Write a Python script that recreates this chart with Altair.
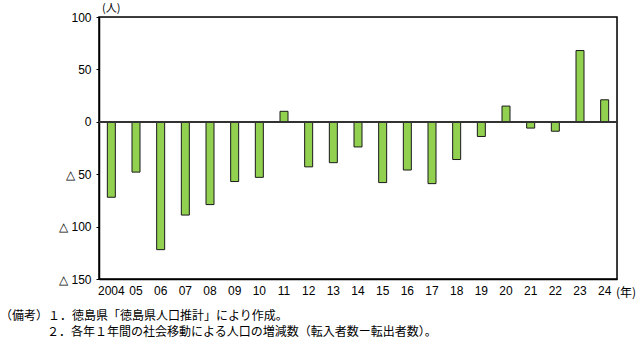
import altair as alt
import pandas as pd

years = ["2004", "05", "06", "07", "08", "09", "10", "11", "12", "13", "14",
         "15", "16", "17", "18", "19", "20", "21", "22", "23", "24"]
values = [-72, -48, -122, -89, -79, -57, -53, 10, -43, -39, -24,
          -58, -46, -59, -36, -14, 15, -6, -9, 68, 21]

df = pd.DataFrame({"year": years, "value": values})

NUMFONT = "Liberation Sans Narrow, Arial Narrow, Liberation Sans, sans-serif"
JPFONT = "Noto Sans CJK JP"

base = alt.Chart(df)

bars = base.mark_bar(color="#92D050", stroke="#1a1a1a", strokeWidth=1, size=8).encode(
    x=alt.X("year:N", sort=years, title=None,
            scale=alt.Scale(paddingInner=0, paddingOuter=0),
            axis=alt.Axis(labelAngle=0, ticks=False, domain=True, domainColor="#000",
                          domainWidth=1.5, labelFont=NUMFONT, labelFontSize=12,
                          labelColor="#000", labelPadding=6)),
    y=alt.Y("value:Q", title=None,
            scale=alt.Scale(domain=[-150, 100], nice=False),
            axis=alt.Axis(values=[-150, -100, -50, 0, 50, 100], grid=False,
                          labelExpr="datum.value < 0 ? '△ ' + abs(datum.value) : datum.value",
                          labelFont=NUMFONT, labelFontSize=12, labelColor="#000",
                          tickSize=3, tickColor="#000", labelPadding=5,
                          domainColor="#000", domainWidth=1.5)),
)

frame = alt.Chart(pd.DataFrame({"k": [0]})).mark_rect(
    fill="white", fillOpacity=0, stroke="#000", strokeWidth=1.5
).encode(x=alt.value(0), x2=alt.value(518), y=alt.value(0), y2=alt.value(262))

zero = base.mark_rule(color="#333", strokeWidth=1.2).encode(
    y=alt.datum(0)
)

unit_y = alt.Chart(pd.DataFrame({"t": ["(人)"]})).mark_text(
    font=JPFONT, fontSize=11, align="left", baseline="middle", color="#000"
).encode(text="t:N", x=alt.value(3), y=alt.value(-8))

unit_x = alt.Chart(pd.DataFrame({"t": ["(年)"]})).mark_text(
    font=JPFONT, fontSize=12, align="left", baseline="middle", color="#000"
).encode(text="t:N", x=alt.value(517), y=alt.value(276))

note1 = alt.Chart(pd.DataFrame({"t": ["（備考）１．徳島県「徳島県人口推計」により作成。"]})).mark_text(
    font=JPFONT, fontSize=12, align="left", baseline="middle", color="#000"
).encode(text="t:N", x=alt.value(-99), y=alt.value(299))

note2 = alt.Chart(pd.DataFrame({"t": ["２．各年１年間の社会移動による人口の増減数（転入者数ー転出者数）。"]})).mark_text(
    font=JPFONT, fontSize=12, align="left", baseline="middle", color="#000"
).encode(text="t:N", x=alt.value(-52), y=alt.value(315))

chart = alt.layer(bars, frame, zero, unit_y, unit_x, note1, note2).properties(
    width=518, height=262,
    padding={"left": 99, "top": 17, "right": 24, "bottom": 62},
    autosize=alt.AutoSizeParams(type="none"),
).configure_view(stroke=None).configure(background="white")

chart.save("out.html", embed_options={"renderer": "svg", "actions": False})
